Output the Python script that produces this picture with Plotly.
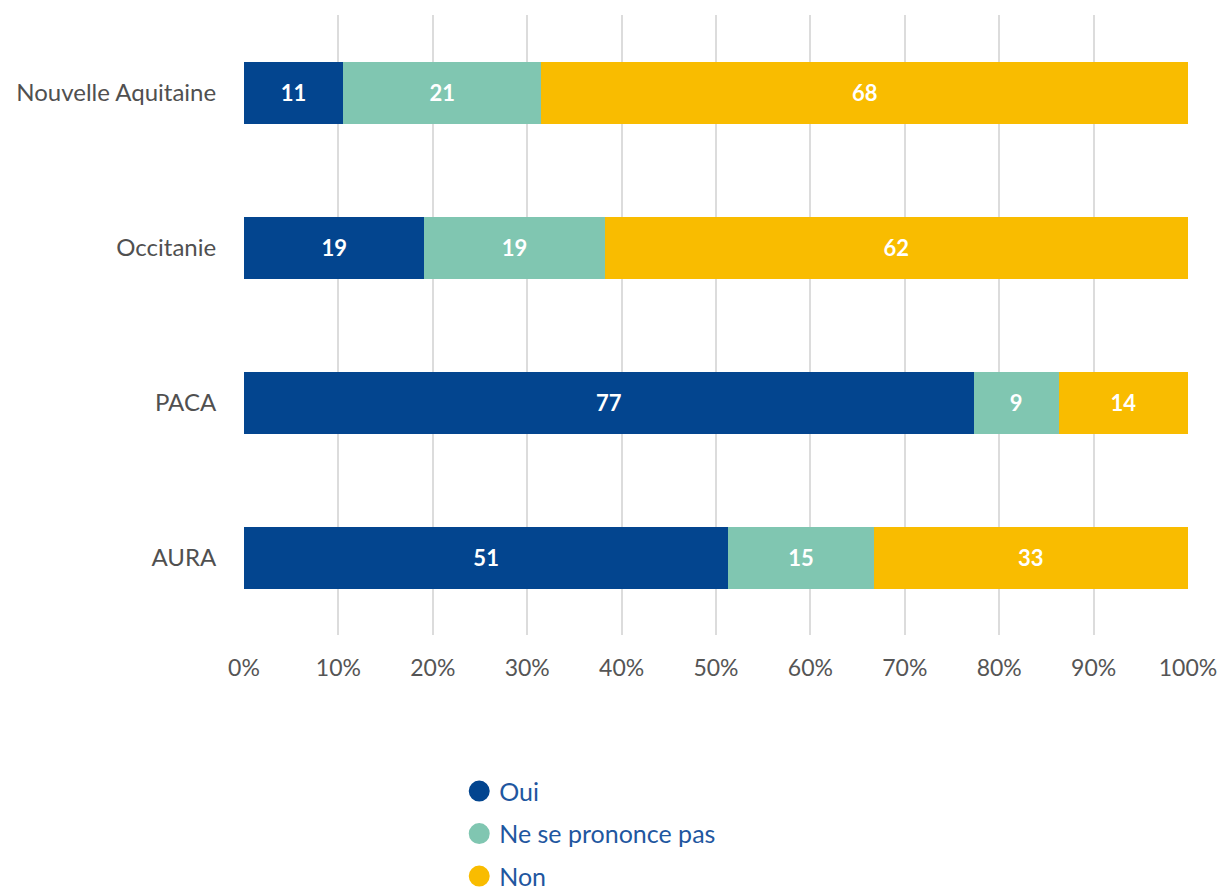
import plotly.graph_objects as go

regions = ["Nouvelle Aquitaine", "Occitanie", "PACA", "AURA"]
oui = [10.5, 19.1, 77.3, 51.3]
nsp = [21.0, 19.1, 9.0, 15.4]
non = [68.5, 61.8, 13.7, 33.3]
oui_labels = ["11", "19", "77", "51"]
nsp_labels = ["21", "19", "9", "15"]
non_labels = ["68", "62", "14", "33"]
x_ticks = [0, 10, 20, 30, 40, 50, 60, 70, 80, 90, 100]
x_tick_text = ["0%", "10%", "20%", "30%", "40%", "50%", "60%", "70%", "80%", "90%", "100%"]

series = [
    ("Oui", oui, oui_labels, "#03458f"),
    ("Ne se prononce pas", nsp, nsp_labels, "#80c6b1"),
    ("Non", non, non_labels, "#f9bc00"),
]

FONT = "Lato"
fig = go.Figure()
for name, vals, labels, color in series:
    fig.add_trace(go.Bar(
        y=regions, x=vals, orientation="h", name=name,
        marker=dict(color=color, line=dict(width=0)),
        text=labels, textposition="inside", insidetextanchor="middle",
        textfont=dict(family=FONT, size=22, color="white", weight="bold"),
        width=0.4, showlegend=False, hoverinfo="skip",
    ))
for name, vals, labels, color in series:
    fig.add_trace(go.Scatter(
        x=[None], y=[None], mode="markers", name=name, legendgroup=name,
        marker=dict(symbol="circle", size=16, color=color, line=dict(color=color, width=5)),
        showlegend=True,
    ))

fig.update_layout(
    width=1220, height=893,
    barmode="stack",
    plot_bgcolor="white", paper_bgcolor="white",
    margin=dict(l=244, r=32, t=15, b=258, autoexpand=False),
    font=dict(family=FONT),
    xaxis=dict(range=[0, 100], tickvals=x_ticks, ticktext=x_tick_text,
               showgrid=True, gridcolor="#dcdcdc", gridwidth=2, zeroline=False,
               showline=False, ticks="outside", ticklen=12, tickcolor="rgba(0,0,0,0)",
               automargin=False,
               tickfont=dict(family=FONT, size=23, color="#555555")),
    yaxis=dict(categoryorder="array", categoryarray=regions[::-1],
               range=[-0.5, 3.5], showgrid=False, zeroline=False, showline=False,
               ticks="outside", ticklen=22, tickcolor="rgba(0,0,0,0)",
               automargin=False,
               tickfont=dict(family=FONT, size=24, color="#505050")),
    legend=dict(x=0.228, xanchor="left", y=-0.215, yanchor="top",
                font=dict(family=FONT, size=25, color="#1f57a0"),
                orientation="v", traceorder="grouped", itemsizing="trace",
                tracegroupgap=7, bgcolor="rgba(0,0,0,0)"),
)

fig.write_html("out.html")
